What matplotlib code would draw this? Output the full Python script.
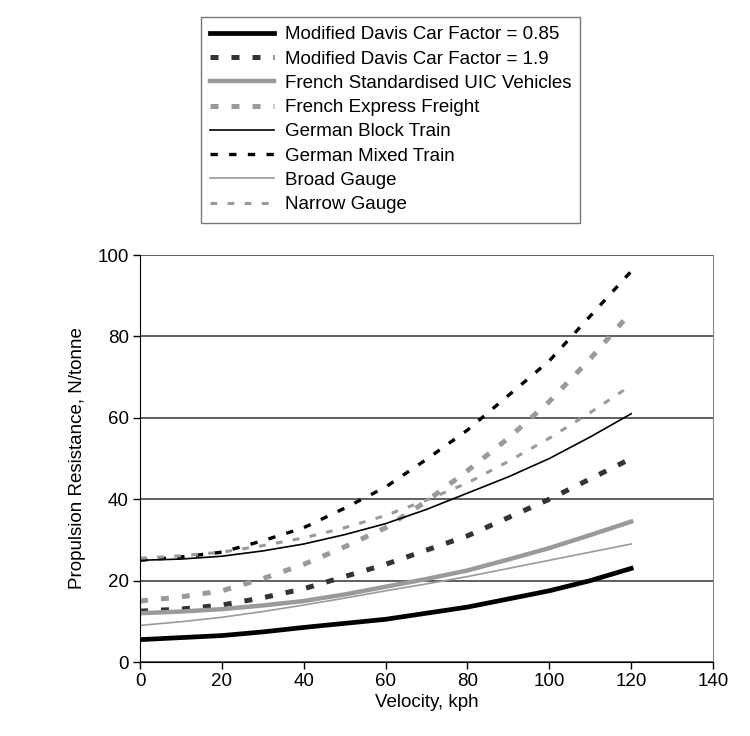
import matplotlib.pyplot as plt

plt.rcParams['font.family'] = ['Liberation Sans', 'DejaVu Sans']

velocity = [0, 10, 20, 30, 40, 50, 60, 70, 80, 90, 100, 110, 120]

davis_085 = [5.5, 6.0, 6.5, 7.4, 8.5, 9.5, 10.5, 12.0, 13.5, 15.5, 17.5, 20.0, 23.0]
davis_19 = [12.5, 13.0, 14.0, 15.8, 18.0, 21.0, 24.0, 27.5, 31.0, 35.5, 40.0, 45.0, 50.0]
french_uic = [12.0, 12.4, 13.0, 13.9, 15.0, 16.6, 18.5, 20.4, 22.5, 25.2, 28.0, 31.2, 34.5]
french_express = [15.0, 16.0, 17.5, 20.5, 24.0, 28.3, 33.0, 39.5, 47.0, 55.0, 64.0, 74.5, 86.0]
german_block = [25.0, 25.3, 26.0, 27.3, 29.0, 31.3, 34.0, 37.5, 41.5, 45.5, 50.0, 55.3, 61.0]
german_mixed = [25.0, 25.8, 27.0, 29.8, 33.0, 37.8, 43.0, 49.8, 57.0, 65.5, 74.0, 85.0, 96.0]
broad_gauge = [9.0, 9.9, 11.0, 12.4, 14.0, 15.7, 17.5, 19.2, 21.0, 23.0, 25.0, 27.0, 29.0]
narrow_gauge = [25.5, 26.1, 27.0, 28.6, 30.5, 33.0, 36.0, 39.8, 44.0, 49.3, 55.0, 61.3, 68.0]

labels = ['Modified Davis Car Factor = 0.85', 'Modified Davis Car Factor = 1.9',
          'French Standardised UIC Vehicles', 'French Express Freight',
          'German Block Train', 'German Mixed Train', 'Broad Gauge', 'Narrow Gauge']

fig = plt.figure(figsize=(7.5, 7.36), dpi=100)
ax = fig.add_axes([0.1867, 0.1005, 0.764, 0.553])

grey = '#9a9a9a'
ax.plot(velocity, davis_085, color='black', lw=3.4, label=labels[0])
ax.plot(velocity, davis_19, color='#333333', lw=3.6, dashes=(1.6, 2.6), label=labels[1])
ax.plot(velocity, french_uic, color=grey, lw=3.2, label=labels[2])
ax.plot(velocity, french_express, color=grey, lw=3.6, dashes=(1.6, 2.6), label=labels[3])
ax.plot(velocity, german_block, color='black', lw=1.2, label=labels[4])
ax.plot(velocity, german_mixed, color='black', lw=2.4, dashes=(2.2, 3.4), label=labels[5])
ax.plot(velocity, broad_gauge, color=grey, lw=1.2, label=labels[6])
ax.plot(velocity, narrow_gauge, color=grey, lw=2.2, dashes=(2.2, 3.4), label=labels[7])

ax.set_xlim(0, 140)
ax.set_ylim(0, 100)
ax.set_xticks(range(0, 141, 20))
ax.set_yticks(range(0, 101, 20))
ax.yaxis.grid(True, color='#444444', lw=1.2)
ax.set_axisbelow(True)
ax.tick_params(direction='out', length=5, labelsize=13.5, width=1, pad=3)
ax.spines['right'].set_color('#888888')
ax.spines['top'].set_visible(False)
ax.set_xlabel('Velocity, kph', fontsize=13.5, labelpad=3)
ax.set_ylabel('Propulsion Resistance, N/tonne', fontsize=13.5, labelpad=8)

fig.legend(loc='upper center', bbox_to_anchor=(0.521, 0.977), fontsize=13.5,
           handlelength=3.4, labelspacing=0.38, frameon=True, fancybox=False,
           edgecolor='#555555', borderpad=0.5, handletextpad=0.55,
           borderaxespad=0)

fig.savefig('out.png')
